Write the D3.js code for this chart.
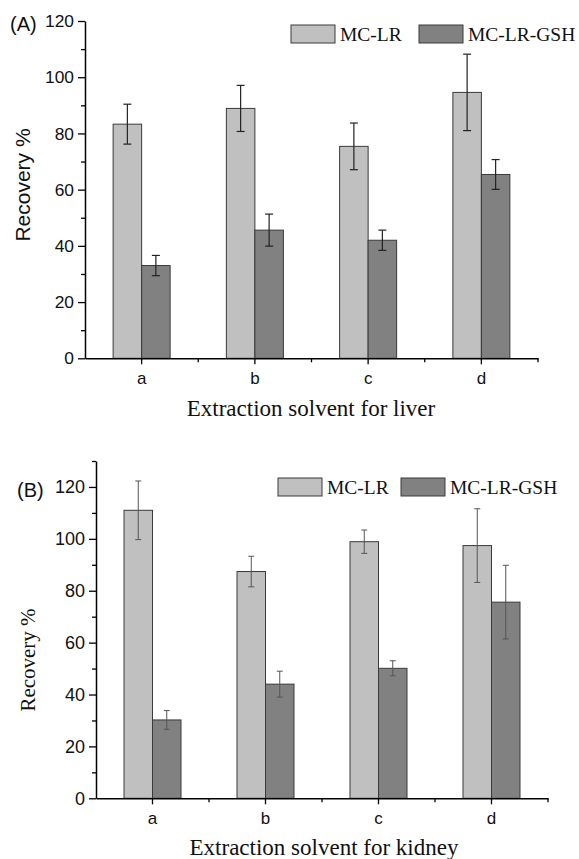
<!DOCTYPE html>
<html>
<head>
<meta charset="utf-8">
<script src="https://d3js.org/d3.v7.min.js"></script>
<style>
body { margin: 0; background: #fff; }
svg { display: block; }
.tick text { font-family: "Liberation Sans", Arial, sans-serif; }
</style>
</head>
<body>
<div id="plot"></div>
<script>
var categories = ["a", "b", "c", "d"];
var series = ["MC-LR", "MC-LR-GSH"];
var yTicks = [0, 20, 40, 60, 80, 100, 120];

// Panel A (liver)
var liverLR = [83.3, 88.9, 75.4, 94.6];
var liverLRErr = [7.1, 8.2, 8.3, 13.6];
var liverGSH = [33.0, 45.6, 42.0, 65.4];
var liverGSHErr = [3.6, 5.7, 3.6, 5.3];

// Panel B (kidney)
var kidneyLR = [111.0, 87.4, 98.9, 97.4];
var kidneyLRErr = [11.3, 5.9, 4.5, 14.2];
var kidneyGSH = [30.2, 44.0, 50.1, 75.6];
var kidneyGSHErr = [3.6, 5.0, 2.9, 14.2];

var colors = { "MC-LR": "#c0c0c0", "MC-LR-GSH": "#818181" };

var width = 579, height = 859;
var svg = d3.select("#plot").append("svg").attr("width", width).attr("height", height);

var sans = "'Liberation Sans', Arial, sans-serif";
var serif = "'Liberation Serif', 'Times New Roman', serif";

function panel(opt) {
  var g = svg.append("g");

  var x0 = d3.scaleBand().domain(categories).range(opt.xRange);
  var bw = x0.bandwidth();
  var x1 = d3.scaleBand().domain(series).range([bw / 2 - 28.5, bw / 2 + 28.5]);
  var y = d3.scaleLinear().domain(opt.yDomain).range(opt.yRange);

  var rows = [];
  categories.forEach(function (c, i) {
    rows.push({ cat: c, s: "MC-LR", v: opt.lr[i], e: opt.lrErr[i] });
    rows.push({ cat: c, s: "MC-LR-GSH", v: opt.gsh[i], e: opt.gshErr[i] });
  });

  // bars
  g.selectAll("rect.bar").data(rows).enter().append("rect")
    .attr("class", "bar")
    .attr("x", function (d) { return x0(d.cat) + x1(d.s); })
    .attr("width", x1.bandwidth())
    .attr("y", function (d) { return y(d.v); })
    .attr("height", function (d) { return y(0) - y(d.v); })
    .style("fill", function (d) { return colors[d.s]; })
    .style("stroke", "#3a3a3a")
    .style("stroke-width", 1);

  // error bars
  var eb = g.selectAll("g.err").data(rows).enter().append("g").attr("class", "err")
    .attr("transform", function (d) { return "translate(" + (x0(d.cat) + x1(d.s) + x1.bandwidth() / 2) + ",0)"; })
    .style("stroke", opt.errColor).style("stroke-width", opt.errWidth);
  eb.append("line").attr("x1", 0).attr("x2", 0)
    .attr("y1", function (d) { return y(d.v + d.e); })
    .attr("y2", function (d) { return y(d.v - d.e); });
  eb.append("line").attr("x1", -opt.cap).attr("x2", opt.cap)
    .attr("y1", function (d) { return y(d.v + d.e); })
    .attr("y2", function (d) { return y(d.v + d.e); });
  eb.append("line").attr("x1", -opt.cap).attr("x2", opt.cap)
    .attr("y1", function (d) { return y(d.v - d.e); })
    .attr("y2", function (d) { return y(d.v - d.e); });

  // y axis: minor then major
  var minor = d3.range(opt.yDomain[0], opt.yDomain[1] + 1, 10).filter(function (v) { return v % 20 !== 0; });
  g.append("g").attr("transform", "translate(" + opt.xRange[0] + ",0)")
    .call(d3.axisLeft(y).tickValues(minor).tickSize(4).tickFormat(""))
    .call(function (a) { a.select(".domain").remove(); a.selectAll("line").style("stroke", "#000").style("stroke-width", 1.3); });
  var ya = g.append("g").attr("transform", "translate(" + opt.xRange[0] + ",0)")
    .call(d3.axisLeft(y).tickValues(yTicks).tickSize(7).tickSizeOuter(0).tickPadding(4));
  ya.select(".domain").style("stroke", "#000").style("stroke-width", 1.5);
  ya.selectAll("line").style("stroke", "#000").style("stroke-width", 1.3);
  ya.selectAll("text").style("font-size", opt.tickFont + "px").style("fill", "#111");

  // x axis: major ticks at centers, minor ticks at band edges
  var edges = categories.map(function (c) { return x0(c) + bw; });
  g.selectAll("line.xminor").data(edges).enter().append("line").attr("class", "xminor")
    .attr("x1", function (d) { return d; }).attr("x2", function (d) { return d; })
    .attr("y1", y(0)).attr("y2", y(0) + 4)
    .style("stroke", "#000").style("stroke-width", 1.3);
  var xa = g.append("g").attr("transform", "translate(0," + y(0) + ")")
    .call(d3.axisBottom(x0).tickSize(6).tickSizeOuter(0).tickPadding(8));
  xa.select(".domain").style("stroke", "#000").style("stroke-width", 1.5);
  xa.selectAll("line").style("stroke", "#000").style("stroke-width", 1.3);
  xa.selectAll("text").style("font-size", "17px").style("fill", "#111");

  // panel label
  g.append("text").attr("x", opt.labelX).attr("y", opt.labelY)
    .style("font-family", sans).style("font-size", "20px").style("fill", "#111").text(opt.label);

  // axis titles
  g.append("text")
    .attr("transform", "translate(" + opt.yTitleX + "," + opt.yTitleY + ") rotate(-90)")
    .attr("text-anchor", "middle")
    .style("font-family", opt.yTitleFont).style("font-size", "21px").style("fill", "#111")
    .text("Recovery %");
  g.append("text").attr("x", opt.xTitleX).attr("y", opt.xTitleY)
    .attr("text-anchor", "middle")
    .style("font-family", serif).style("font-size", "23px").style("fill", "#111")
    .text(opt.xTitle);

  // legend
  var lg = g.selectAll("g.leg").data(series).enter().append("g").attr("class", "leg")
    .attr("transform", function (d, i) { return "translate(" + opt.legendX[i] + "," + opt.legendY + ")"; });
  lg.append("rect").attr("width", 44).attr("height", 18)
    .style("fill", function (d) { return colors[d]; })
    .style("stroke", "#3a3a3a").style("stroke-width", 1);
  lg.append("text").attr("x", 49).attr("y", 16)
    .style("font-family", serif).style("font-size", "19.5px").style("fill", "#111")
    .text(function (d) { return d; });
}

panel({
  xRange: [85, 538], yRange: [358.3, 21], yDomain: [0, 120],
  lr: liverLR, lrErr: liverLRErr, gsh: liverGSH, gshErr: liverGSHErr,
  errColor: "#222", errWidth: 1.2, cap: 4, tickFont: 17.4,
  label: "(A)", labelX: 10, labelY: 31,
  yTitleFont: sans, yTitleX: 30, yTitleY: 185,
  xTitle: "Extraction solvent for liver", xTitleX: 311, xTitleY: 416,
  legendX: [291, 419], legendY: 25
});

panel({
  xRange: [96, 548], yRange: [798.3, 461], yDomain: [0, 130],
  lr: kidneyLR, lrErr: kidneyLRErr, gsh: kidneyGSH, gshErr: kidneyGSHErr,
  errColor: "#555", errWidth: 1, cap: 3, tickFont: 18,
  label: "(B)", labelX: 17, labelY: 497,
  yTitleFont: serif, yTitleX: 35, yTitleY: 660,
  xTitle: "Extraction solvent for kidney", xTitleX: 324, xTitleY: 855,
  legendX: [278, 401], legendY: 478
});
</script>
</body>
</html>
